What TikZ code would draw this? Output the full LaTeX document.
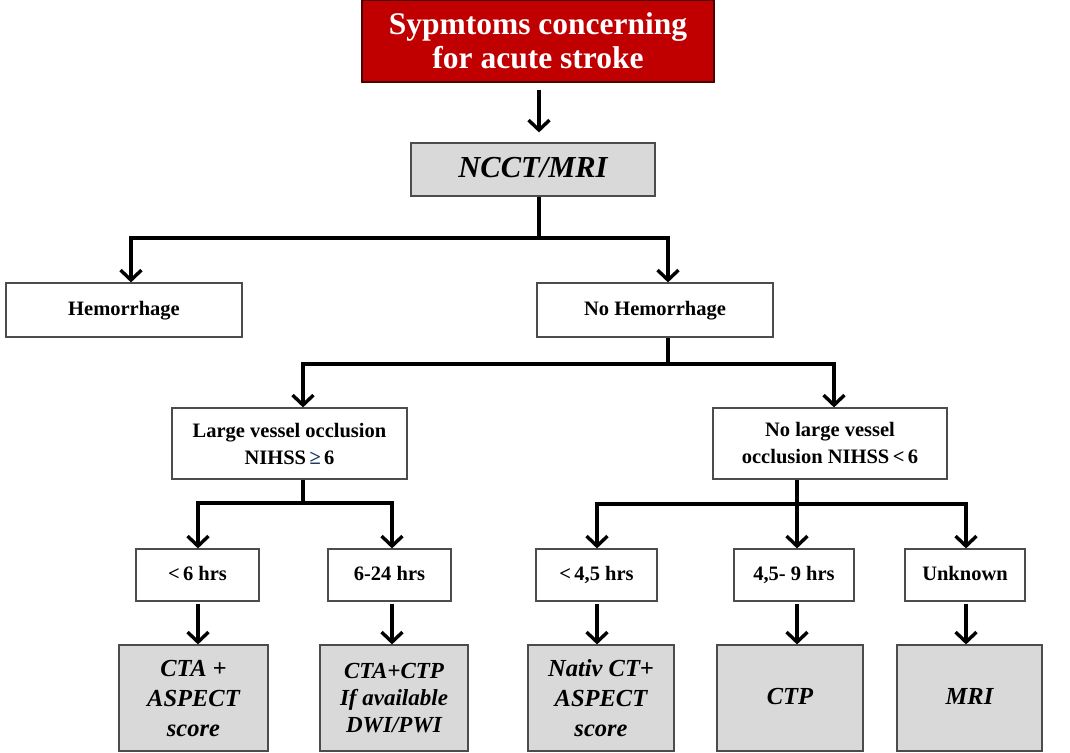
\documentclass[tikz,border=0pt]{standalone}
\usepackage{fontspec}
\setmainfont{Liberation Serif}
\usetikzlibrary{arrows.meta}
\definecolor{boxred}{RGB}{192,0,0}
\definecolor{boxgray}{RGB}{217,217,217}
\definecolor{geblue}{RGB}{31,56,100}
\tikzset{
  box/.style={draw=black!70, line width=1.2pt, align=center, inner sep=0pt,
    font=\fontsize{20.5}{27}\selectfont\bfseries},
  oneline/.style={text height=14pt, text depth=4pt},
  result/.style={box, fill=boxgray, font=\fontsize{24.5}{30}\selectfont\bfseries\itshape},
  title/.style={box, fill=boxred, draw=black!60!boxred, text=white,
    font=\fontsize{31.5}{34}\selectfont\bfseries},
  flow/.style={line width=3.6pt, line join=miter},
  arr/.style={flow, -{Straight Barb[length=10pt,width=21pt,line width=3.4pt]}}
}
\begin{document}
\begin{tikzpicture}[x=1pt,y=-1pt]
\useasboundingbox (0,0) rectangle (1070,752);

% boxes
\node[title, minimum width=352pt, minimum height=82pt] (top) at (538,41)
  {Sypmtoms concerning\\for acute stroke};
\node[result, minimum width=244pt, minimum height=53pt, text height=21pt, text depth=6pt,
  font=\fontsize{30.5}{32}\selectfont\bfseries\itshape] (ncct) at (533,169.5) {NCCT/MRI};

\node[box, oneline, minimum width=236pt, minimum height=54pt] (hem) at (124,310) {Hemorrhage};
\node[box, oneline, minimum width=236pt, minimum height=54pt] (nohem) at (655,310) {No Hemorrhage};

\node[box, minimum width=235pt, minimum height=71pt] (lvo) at (289.5,443.5)
  {Large vessel occlusion\\NIHSS\,{\color{geblue}≥}\,6};
\node[box, minimum width=234pt, minimum height=71pt] (nolvo) at (830,443.5)
  {No large vessel\\occlusion NIHSS\,<\,6};

\node[box, oneline, minimum width=123pt, minimum height=52pt] (t1) at (197.5,575) {<\,6 hrs};
\node[box, oneline, minimum width=123pt, minimum height=52pt] (t2) at (389.5,575) {6-24 hrs};
\node[box, oneline, minimum width=121pt, minimum height=52pt] (t3) at (596.5,575) {<\,4,5 hrs};
\node[box, oneline, minimum width=120pt, minimum height=52pt] (t4) at (794,575) {4,5- 9 hrs};
\node[box, oneline, minimum width=120pt, minimum height=52pt] (t5) at (965,575) {Unknown};

\node[result, minimum width=149pt, minimum height=106pt] (r1) at (193.5,698)
  {CTA +\\ASPECT\\score};
\node[result, minimum width=148pt, minimum height=106pt,
  font=\fontsize{23}{27}\selectfont\bfseries\itshape] (r2) at (394,698)
  {CTA+CTP\\If available\\DWI/PWI};
\node[result, minimum width=146pt, minimum height=106pt] (r3) at (601,698)
  {Nativ CT+\\ASPECT\\score};
\node[result, text height=17pt, text depth=5pt, minimum width=146pt, minimum height=106pt] (r4) at (790,698) {CTP};
\node[result, text height=17pt, text depth=5pt, minimum width=145pt, minimum height=106pt] (r5) at (969.5,698) {MRI};

% branch points
\coordinate (s0) at (539,0);
\coordinate (j1) at (539,238);
\coordinate (a1) at (131,238);
\coordinate (a2) at (668,238);
\coordinate (j2) at (668,364);
\coordinate (b1) at (303,364);
\coordinate (b2) at (834,364);
\coordinate (j3) at (303,503);
\coordinate (c1) at (198,503);
\coordinate (c2) at (392,503);
\coordinate (j4) at (797,504);
\coordinate (d1) at (597,504);
\coordinate (d2) at (797,504);
\coordinate (d3) at (966,504);

% connectors
\draw[arr, line width=3.2pt, shorten <=7pt, shorten >=10pt] (top.south -| s0) -- (ncct.north -| s0);
\draw[flow] (ncct.south -| j1) -- (j1);
\draw[arr] (j1) -- (a1) -- (hem.north -| a1);
\draw[arr] (j1) -- (a2) -- (nohem.north -| a2);

\draw[flow] (nohem.south -| j2) -- (j2);
\draw[arr] (j2) -- (b1) -- (lvo.north -| b1);
\draw[arr] (j2) -- (b2) -- (nolvo.north -| b2);

\draw[flow] (lvo.south -| j3) -- (j3);
\draw[arr] (j3) -- (c1) -- (t1.north -| c1);
\draw[arr] (j3) -- (c2) -- (t2.north -| c2);

\draw[flow] (nolvo.south -| j4) -- (j4);
\draw[arr] (j4) -- (d1) -- (t3.north -| d1);
\draw[arr] (j4) -- (t4.north -| d2);
\draw[arr] (j4) -- (d3) -- (t5.north -| d3);

\draw[arr, shorten <=2pt] (t1.south -| c1) -- (r1.north -| c1);
\draw[arr, shorten <=2pt] (t2.south -| c2) -- (r2.north -| c2);
\draw[arr, shorten <=2pt] (t3.south -| d1) -- (r3.north -| d1);
\draw[arr, shorten <=2pt] (t4.south -| d2) -- (r4.north -| d2);
\draw[arr, shorten <=2pt] (t5.south -| d3) -- (r5.north -| d3);
\end{tikzpicture}
\end{document}
